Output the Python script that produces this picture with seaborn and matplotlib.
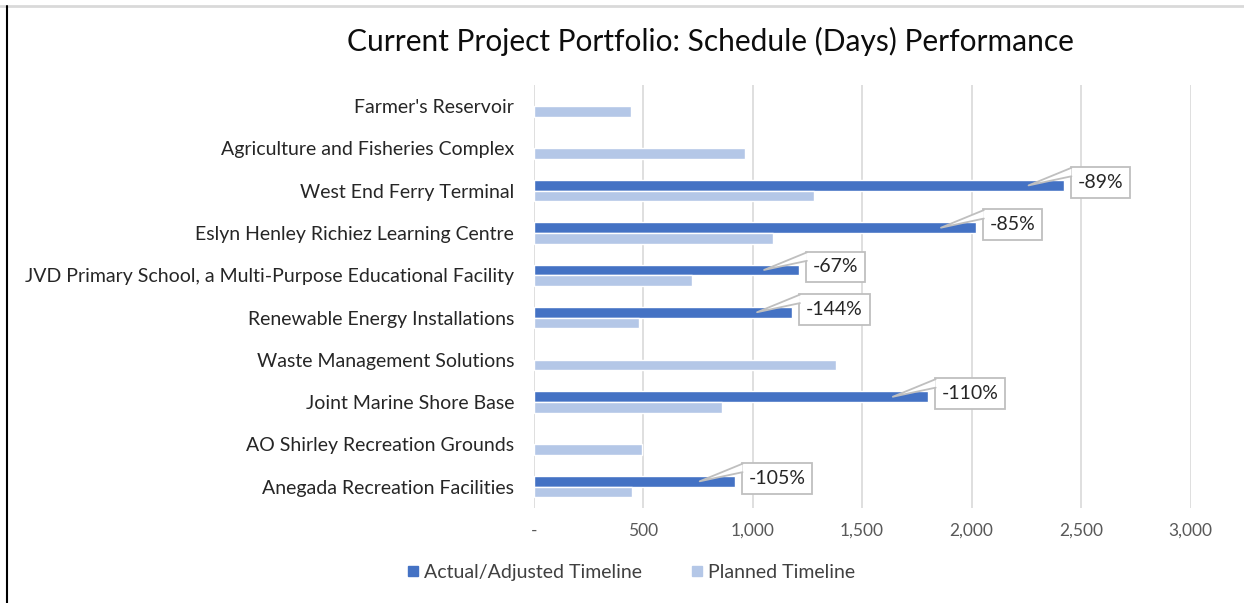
import numpy as np
import pandas as pd
import seaborn as sns
import matplotlib.pyplot as plt
from matplotlib.lines import Line2D
from matplotlib.patches import Polygon
from matplotlib.ticker import FuncFormatter
from matplotlib.transforms import offset_copy

projects = ["Farmer's Reservoir", "Agriculture and Fisheries Complex", "West End Ferry Terminal",
            "Eslyn Henley Richiez Learning Centre",
            "JVD Primary School, a Multi-Purpose Educational Facility",
            "Renewable Energy Installations", "Waste Management Solutions",
            "Joint Marine Shore Base", "AO Shirley Recreation Grounds",
            "Anegada Recreation Facilities"]
actual_days = [np.nan, np.nan, 2420, 2020, 1212, 1180, np.nan, 1800, np.nan, 918]
planned_days = [445, 965, 1280, 1092, 725, 483, 1380, 858, 495, 448]
series_names = ["Actual/Adjusted Timeline", "Planned Timeline"]
x_ticks = [0, 500, 1000, 1500, 2000, 2500, 3000]

dark_blue = "#4472C4"
light_blue = "#B4C7E7"
callout_edge = "#BFBFBF"

df = pd.DataFrame({
    "project": projects * 2,
    "days": list(actual_days) + list(planned_days),
    "series": [series_names[0]] * len(projects) + [series_names[1]] * len(projects),
})

sns.set_style("white")
plt.rcParams["font.family"] = ["Lato", "DejaVu Sans"]

fig = plt.figure(figsize=(12.44, 6.03), dpi=100)
ax = fig.add_axes([0.429, 0.158, 0.528, 0.701])

sns.barplot(data=df, y="project", x="days", hue="series", order=projects,
            hue_order=series_names, palette=[dark_blue, light_blue],
            width=0.5, orient="h", ax=ax, legend=False, saturation=1)

ax.set_xlim(0, 3000)
ax.set_xticks(x_ticks)
ax.xaxis.set_major_formatter(FuncFormatter(lambda v, p: "-" if v == 0 else f"{v:,.0f}"))
ax.grid(axis="x", color="#D9D9D9", linewidth=1.2)
ax.grid(axis="y", visible=False)
ax.set_axisbelow(True)
for s in ax.spines.values():
    s.set_visible(False)
ax.set_xlabel("")
ax.set_ylabel("")
ax.tick_params(axis="x", length=0, pad=11, labelsize=12.5, labelcolor="#595959")
ax.tick_params(axis="y", length=0, pad=14, labelsize=14, labelcolor="#262626")

# callout labels on the actual bars (box just right of bar end, pointer into the bar)
txt_tr = offset_copy(ax.transData, fig=fig, x=14, y=3, units="dots")
callouts = []
for i, (a, p) in enumerate(zip(actual_days, planned_days)):
    if np.isnan(a):
        continue
    pct = (p - a) / p
    yb = i - 0.125
    t = ax.text(a, yb, f"{pct:.0%}", transform=txt_tr, fontsize=14, color="#262626",
                ha="left", va="center", zorder=5,
                bbox=dict(boxstyle="square,pad=0.35", fc="white", ec=callout_edge, lw=1.3))
    callouts.append((t, a, yb))

fig.canvas.draw()
renderer = fig.canvas.get_renderer()
inv = ax.transData.inverted()
for t, a, yb in callouts:
    bb = t.get_bbox_patch().get_window_extent(renderer)
    tip = ax.transData.transform((a, yb)) - np.array([35, 0])
    corner = np.array([bb.x0 + 0.7, bb.y1 - 0.7])
    lower = np.array([bb.x0 + 0.7, bb.y1 - 0.3 * bb.height])
    pts = inv.transform(np.array([corner, tip, lower]))
    ax.add_patch(Polygon(pts, closed=True, fc="white", ec="none", zorder=6))
    ax.add_line(Line2D(pts[:, 0], pts[:, 1], color=callout_edge, lw=1.3, zorder=7))

fig.suptitle("Current Project Portfolio: Schedule (Days) Performance", x=0.571, y=0.956,
             fontsize=21.5, color="#0D0D0D")

handles = [Line2D([], [], marker="s", linestyle="", color=c, markersize=7.5) for c in [dark_blue, light_blue]]
fig.legend(handles, series_names, loc="lower center", bbox_to_anchor=(0.507, 0.008), ncol=2,
           frameon=False, fontsize=14, handlelength=0.7, handletextpad=0.2, columnspacing=2.5,
           labelcolor="#404040")

# chart frame edges
fig.add_artist(Line2D([0, 1], [0.99, 0.99], transform=fig.transFigure, color="#D9D9D9", lw=2))
fig.add_artist(Line2D([0.006, 0.006], [0, 0.99], transform=fig.transFigure, color="black", lw=1.5))

fig.savefig("out.png", dpi=100)
